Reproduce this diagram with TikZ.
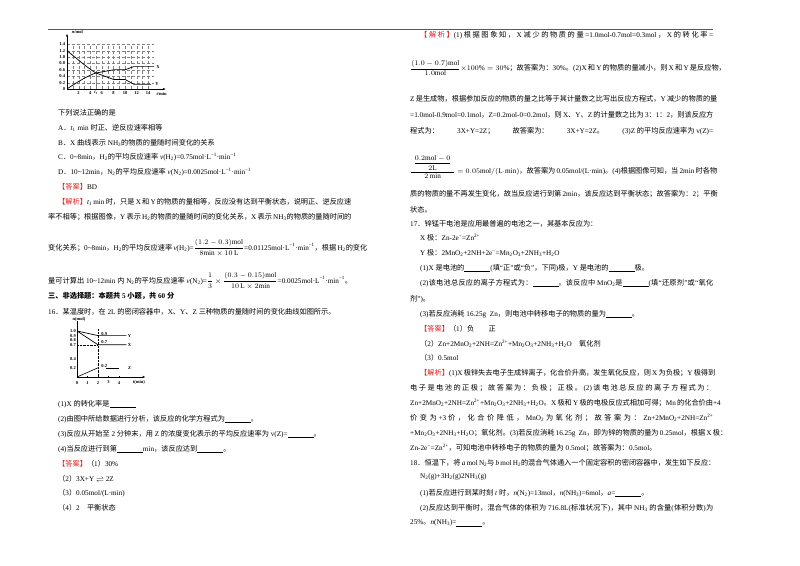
\documentclass[tikz,border=0pt]{standalone}
\usepackage{amsmath}
\usepackage{fontspec}
\setmainfont{Liberation Serif}
\newfontfamily\cjk{Noto Sans CJK SC}
\newfontfamily\lat{Liberation Serif}
\XeTeXinterchartokenstate=1
\newXeTeXintercharclass\cjkclass
\count255="4E00 \loop\XeTeXcharclass\count255=\cjkclass\ifnum\count255<"9FFF\advance\count255 1\repeat
\count255="3000 \loop\XeTeXcharclass\count255=\cjkclass\ifnum\count255<"303F\advance\count255 1\repeat
\count255="FF00 \loop\XeTeXcharclass\count255=\cjkclass\ifnum\count255<"FFEF\advance\count255 1\repeat
\XeTeXinterchartoks 0 \cjkclass={\cjk\hskip0pt plus 1fil}
\XeTeXinterchartoks 4095 \cjkclass={\cjk}
\XeTeXinterchartoks \cjkclass 0={\hskip0pt plus 1fil\lat}
\XeTeXinterchartoks \cjkclass 4095={\lat}
\XeTeXinterchartoks \cjkclass \cjkclass={\hskip0pt plus 1fil}
\newcommand\sbx[1]{\textsubscript{#1}}
\newcommand\spx[1]{\textsuperscript{#1}}
\newcommand\J[2]{\hbox to #1pt{#2}}
\definecolor{ans}{RGB}{225,30,30}
\newcommand\red[1]{\textcolor{ans}{#1}}
\newcommand\bl{\underline{\hspace{26pt}}}
\usetikzlibrary{arrows.meta}
\tikzset{t/.style={anchor=west,inner sep=0,font=\fontsize{7.2}{8}\selectfont},
 ax/.style={line width=0.5pt},cv/.style={line width=0.7pt},
 gr/.style={densely dashed,line width=0.2pt,gray},
 sm/.style={anchor=center,inner sep=0,font=\fontsize{4.5}{5}\selectfont\bfseries}}
\begin{document}
\begin{tikzpicture}[x=1pt,y=-1pt]
\path[use as bounding box,fill=white] (0,0) rectangle (800,565);
\draw[line width=0.6pt,gray!70!black] (48,29) -- (713,29);
% ---------- graph 1
\begin{scope}[shift={(67,89)},x=5.8pt,y=32pt]
\foreach \i in {1,...,14} \draw[gr] (\i,0) -- (\i,1.4);
\foreach \j in {1,...,7} \draw[gr] (0,\j*0.2) -- (15,\j*0.2);
\draw[ax,-{Stealth[length=3pt]}] (0,0) -- (17,0);
\draw[ax,-{Stealth[length=3pt]}] (0,0) -- (0,1.72);
\foreach \j/\l in {0/0,0.2/0.2,0.4/0.4,0.6/0.6,0.8/0.8,1/1.0,1.2/1.2,1.4/1.4} \node[sm,anchor=east] (ya\l) at (-0.3,\j) {\l};
\foreach \i in {2,4,6,8,10,12,14} \node[sm] (xa\i) at (\i,-0.12) {\i};
\node[sm] (xat) at (5,-0.12) {\itshape t\sbx{1}};
\node[sm] (xau) at (16.3,-0.16) {\itshape t/\upshape min};
\node[sm] (yau) at (1.8,1.78) {\itshape n\upshape/mol};
\draw[gray,line width=1pt] (5,0) -- (5,0.48);
\draw[cv] (0,1.2) .. controls (2,0.9) and (4,0.6) .. (5,0.5) -- (6.5,0.4) -- (8,0.3) -- (10,0.3) -- (11.5,0.15) -- (14.5,0.15);
\draw[cv] (0,0) .. controls (2,0.25) and (4,0.45) .. (5,0.5) -- (8,0.6) -- (10,0.6) -- (11.5,0.7) -- (15,0.7);
\node[sm] (lx) at (15.7,0.7) {X};
\node[sm] (ly) at (15.5,0.15) {Y};
\end{scope}
% ---------- left text
\node[t] (a1) at (58,113) {下列说法正确的是};
\node[t] (a2) at (58,128) {A．\textit{t}\sbx{1} min 时正、逆反应速率相等};
\node[t] (a3) at (58,143) {B．X 曲线表示 NH\sbx{3}的物质的量随时间变化的关系};
\node[t] (a4) at (58,157) {C．0\textasciitilde8min，H\sbx{2}的平均反应速率 \textit{v}(H\sbx{2})=0.75mol·L\spx{−1}·min\spx{−1}};
\node[t] (a5) at (58,172) {D．10\textasciitilde12min，N\sbx{2}的平均反应速率 \textit{v}(N\sbx{2})=0.0025mol·L\spx{−1}·min\spx{−1}};
\node[t] (a6) at (58,187) {\red{【答案】}BD};
\node[t] (a7) at (58,202) {\J{290}{\red{【解析】}\textit{t}\sbx{1} min 时，只是 X 和 Y 的物质的量相等，反应没有达到平衡状态，说明正、逆反应速}};
\node[t] (a8) at (48,217) {\J{302}{率不相等；根据图像，Y 表示 H\sbx{2}的物质的量随时间的变化关系，X 表示 NH\sbx{3}的物质的量随时间的}};
\node[t,anchor=base west] (a9) at (48,250) {\J{304}{变化关系；0\textasciitilde8min，H\sbx{2}的平均反应速率 \textit{v}(H\sbx{2})=$\dfrac{(1.2-0.3)\mathrm{mol}}{8\mathrm{min}\times10\,\mathrm{L}}$=0.01125mol·L\spx{−1}·min\spx{−1}，根据 H\sbx{2}的变化}};
\node[t,anchor=base west] (a10) at (48,283) {量可计算出 10\textasciitilde12min 内 N\sbx{2}的平均反应速率 \textit{v}(N\sbx{2})=$\dfrac{1}{3}\times\dfrac{(0.3-0.15)\mathrm{mol}}{10\,\mathrm{L}\times2\mathrm{min}}$=0.0025mol·L\spx{−1}·min\spx{−1}。};
\node[t] (a11) at (48,296) {\bfseries 三、非选择题：本题共 5 小题，共 60 分};
\node[t] (a12) at (48,312) {16．某温度时，在 2L 的密闭容器中，X、Y、Z 三种物质的量随时间的变化曲线如图所示。};
% ---------- graph 2
\begin{scope}[shift={(77,377)},x=10.5pt,y=46pt]
\draw[ax] (0,0) -- (0,1.22);
\draw[ax,-{Stealth[length=3pt]}] (0,0) -- (6.5,0);
\foreach \i in {1,2,3,4} {\draw[ax] (\i,0) -- (\i,0.03); \node[sm] (xb\i) at (\i,-0.12) {\i};}
\node[sm] (xb0) at (0,-0.12) {0};
\node[sm] (xbt) at (5.9,-0.12) {t(min)};
\node[sm] (ybt) at (0.2,1.26) {n(mol)};
\foreach \j/\l in {1/1.0,0.9/0.9,0.8/0.8,0.7/0.7,0.4/0.4,0.2/0.2} \node[sm,anchor=east] (yb\l) at (-0.1,\j) {\l};
\draw[densely dotted,line width=0.4pt] (2,0) -- (2,1.05);
\draw[densely dotted,line width=0.4pt] (0,0.7) -- (2,0.7);
\draw[cv] (0,1) -- (2,0.9) -- (4.7,0.9);
\draw[cv] (0,1) -- (2,0.7) -- (4.7,0.7);
\draw[line width=0.6pt] (0,0) -- (2,0.2);
\draw[line width=0.5pt] (2.8,0.2) -- (4,0.2);
\node[sm] (g9) at (2.6,0.94) {0.9};
\node[sm] (g7) at (2.6,0.75) {0.7};
\node[sm] (g2) at (2.6,0.24) {0.2};
\node[sm] (gy) at (5,0.9) {Y};
\node[sm] (gx) at (5,0.7) {X};
\node[sm] (gz) at (5,0.2) {Z};
\end{scope}
\node[t] (b1) at (58,404) {(1)X 的转化率是\bl};
\node[t] (b2) at (58,419) {(2)由图中所给数据进行分析，该反应的化学方程式为\bl。};
\node[t] (b3) at (58,434) {(3)反应从开始至 2 分钟末，用 Z 的浓度变化表示的平均反应速率为 v(Z)=\bl。};
\node[t] (b4) at (58,449) {(4)当反应进行到第\bl min，该反应达到\bl。};
\node[t] (b5) at (58,464) {\red{【答案】}（1）30\%};
\node[t] (b6) at (58,479) {（2）3X+Y $\rightleftharpoons$ 2Z};
\node[t] (b7) at (58,493) {（3）0.05mol/(L·min)};
\node[t] (b8) at (58,508) {（4）2\quad 平衡状态};
% ---------- right column
\node[t] (c1) at (420,35) {\J{293}{\red{【解析】}(1)根据图象知，X 减少的物质的量=1.0mol-0.7mol=0.3mol，X 的转化率=}};
\node[t] (c2) at (410,68) {\J{303}{$\dfrac{(1.0-0.7)\mathrm{mol}}{1.0\mathrm{mol}}\times100\%=30\%$；故答案为：30\%。(2)X 和 Y 的物质的量减小，则 X 和 Y 是反应物，}};
\node[t] (c3) at (410,99) {\J{303}{Z 是生成物，根据参加反应的物质的量之比等于其计量数之比写出反应方程式，Y 减少的物质的量}};
\node[t] (c4) at (410,115) {\J{303}{=1.0mol-0.9mol=0.1mol，Z=0.2mol-0=0.2mol，则 X、Y、Z 的计量数之比为 3：1：2，则该反应方}};
\node[t] (c5) at (410,131) {\J{303}{程式为：\hfill 3X+Y=2Z；\hfill 故答案为：\hfill 3X+Y=2Z。\hfill (3)Z 的平均反应速率为 v(Z)=}};
\node[t] (c6) at (410,167) {\J{303}{$\dfrac{\;\dfrac{0.2\mathrm{mol}-0}{2\mathrm{L}}\;}{2\,\mathrm{min}}=0.05\mathrm{mol}/(\mathrm{L}\cdot\mathrm{min})$，故答案为 0.05mol/(L·min)。(4)根据图像可知，当 2min 时各物}};
\node[t] (c7) at (410,194) {\J{303}{质的物质的量不再发生变化，故当反应进行到第 2min，该反应达到平衡状态；故答案为：2；平衡}};
\node[t] (c8) at (410,210) {状态。};
\node[t] (c9) at (410,224) {17．锌锰干电池是应用最普遍的电池之一，其基本反应为：};
\node[t] (c10) at (420,238) {X 极：Zn-2e\spx{−}=Zn\spx{2+}};
\node[t] (c11) at (420,253) {Y 极：2MnO\sbx{2}+2NH+2e\spx{−}=Mn\sbx{2}O\sbx{3}+2NH\sbx{3}+H\sbx{2}O};
\node[t] (c12) at (420,268) {(1)X 是电池的\bl(填“正”或“负”，下同)极，Y 是电池的\bl 极。};
\node[t] (c13) at (420,283) {\J{293}{(2)该电池总反应的离子方程式为：\bl。该反应中 MnO\sbx{2}是\bl(填“还原剂”或“氧化}};
\node[t] (c14) at (410,299) {剂”)。};
\node[t] (c15) at (420,314) {(3)若反应消耗 16.25g\; Zn，则电池中转移电子的物质的量为\bl。};
\node[t] (c16) at (420,329) {\red{【答案】}（1）负\qquad 正};
\node[t] (c17) at (420,344) {（2）Zn+2MnO\sbx{2}+2NH=Zn\spx{2+}+Mn\sbx{2}O\sbx{3}+2NH\sbx{3}+H\sbx{2}O\quad 氧化剂};
\node[t] (c18) at (420,358) {（3）0.5mol};
\node[t] (c19) at (420,373) {\J{293}{\red{【解析】}(1)X 极锌失去电子生成锌离子，化合价升高，发生氧化反应，则 X 为负极；Y 极得到}};
\node[t] (c20) at (410,388) {\J{303}{电子是电池的正极；故答案为：负极；正极。(2)该电池总反应的离子方程式为：}};
\node[t] (c21) at (410,403) {\J{303}{Zn+2MnO\sbx{2}+2NH=Zn\spx{2+}+Mn\sbx{2}O\sbx{3}+2NH\sbx{3}+H\sbx{2}O。X 极和 Y 极的电极反应式相加可得；Mn 的化合价由+4}};
\node[t] (c22) at (410,418) {\J{303}{价变为 +3 价，化合价降低，MnO\sbx{2} 为氧化剂；故答案为：Zn+2MnO\sbx{2}+2NH=Zn\spx{2+}}};
\node[t] (c23) at (410,433) {\J{303}{+Mn\sbx{2}O\sbx{3}+2NH\sbx{3}+H\sbx{2}O；氧化剂。(3)若反应消耗 16.25g\; Zn，即为锌的物质的量为 0.25mol，根据 X 极：}};
\node[t] (c24) at (410,448) {Zn-2e\spx{−}=Zn\spx{2+}，可知电池中转移电子的物质的量为 0.5mol；故答案为：0.5mol。};
\node[t] (c25) at (410,463) {\J{303}{18．恒温下，将 \textit{a} mol N\sbx{2}与 \textit{b} mol H\sbx{2}的混合气体通入一个固定容积的密闭容器中，发生如下反应：}};
\node[t] (c26) at (420,477) {N\sbx{2}(g)+3H\sbx{2}(g)2NH\sbx{3}(g)};
\node[t] (c27) at (420,493) {(1)若反应进行到某时刻 \textit{t} 时，\textit{n}(N\sbx{2})=13mol，\textit{n}(NH\sbx{3})=6mol，\textit{a}=\bl。};
\node[t] (c28) at (420,508) {\J{293}{(2)反应达到平衡时，混合气体的体积为 716.8L(标准状况下)，其中 NH\sbx{3} 的含量(体积分数)为}};
\node[t] (c29) at (410,523) {25\%。\textit{n}(NH\sbx{3})=\bl。};
\end{tikzpicture}
\end{document}
